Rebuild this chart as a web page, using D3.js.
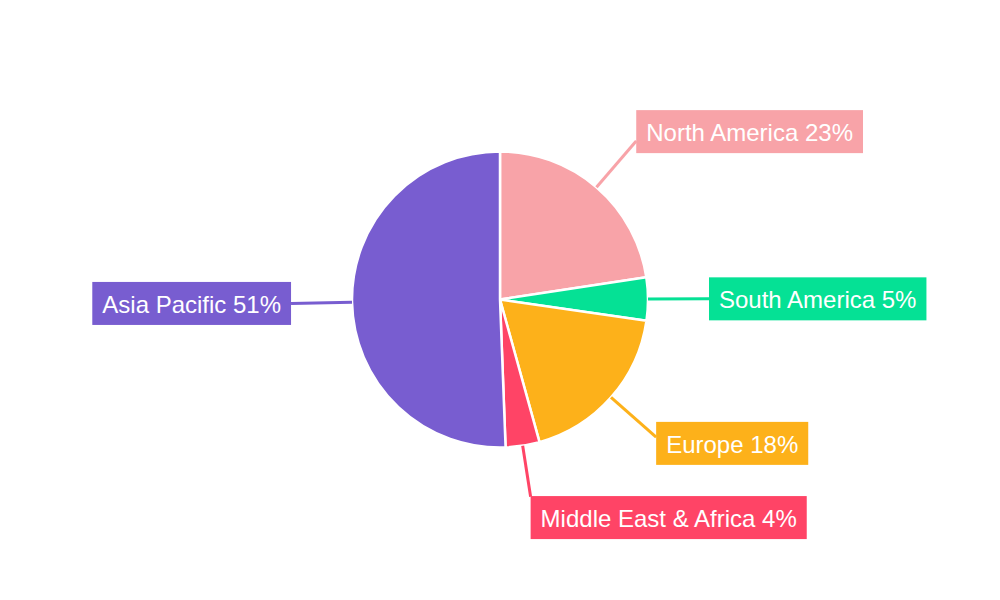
<!DOCTYPE html>
<html>
<head>
<meta charset="utf-8">
<script src="https://cdn.jsdelivr.net/npm/d3@7"></script>
<style>
  html, body { margin: 0; padding: 0; background: #ffffff; }
  svg { display: block; }
</style>
</head>
<body>
<svg id="chart" width="1000" height="600"></svg>
<script>
const categories = ["North America", "South America", "Europe", "Middle East & Africa", "Asia Pacific"];
const values = [22.6, 4.7, 18.4, 3.7, 50.6];
const colors = ["#F8A3A8", "#05E195", "#FDB11A", "#FF4466", "#785DD0"];

const width = 1000, height = 600;
const cx = 500, cy = 299.5, radius = 148;
const lineOut = 61;
const fontSize = 24, padX = 10, boxH = 43;

const svg = d3.select("#chart");
const g = svg.append("g").attr("transform", `translate(${cx},${cy})`);

const data = categories.map((c, i) => ({ name: c, value: values[i], color: colors[i] }));
const total = d3.sum(values);

const pie = d3.pie().value(d => d.value).sort(null);
const arcs = pie(data);
const arc = d3.arc().innerRadius(0).outerRadius(radius);

g.selectAll("path.slice")
  .data(arcs)
  .enter().append("path")
  .attr("class", "slice")
  .attr("d", arc)
  .attr("fill", d => d.data.color)
  .attr("stroke", "#ffffff")
  .attr("stroke-width", 2.5)
  .attr("stroke-linejoin", "round");

const labels = g.selectAll("g.label")
  .data(arcs)
  .enter().append("g")
  .attr("class", "label");

labels.each(function(d) {
  const sel = d3.select(this);
  const mid = (d.startAngle + d.endAngle) / 2;
  const ux = Math.sin(mid), uy = -Math.cos(mid);
  const out = radius + lineOut - 10 * Math.pow(Math.max(uy, 0), 6);
  const x0 = ux * radius, y0 = uy * radius;
  const x1 = ux * out, y1 = uy * out;

  sel.append("line")
    .attr("x1", x0).attr("y1", y0)
    .attr("x2", x1).attr("y2", y1)
    .attr("stroke", d.data.color)
    .attr("stroke-width", 3);

  const txt = `${d.data.name} ${Math.round(d.data.value / total * 100)}%`;
  const t = sel.append("text")
    .attr("font-family", "Liberation Sans, Arial, sans-serif")
    .attr("font-size", fontSize)
    .attr("fill", "#ffffff")
    .attr("dominant-baseline", "central")
    .text(txt);
  const tw = t.node().getComputedTextLength();
  const bw = tw + padX * 2;
  const right = ux >= 0;
  const bx = right ? x1 : x1 - bw;
  const bcy = y1 + Math.pow(uy, 3) * boxH / 2;
  sel.insert("rect", "text")
    .attr("x", bx).attr("y", bcy - boxH / 2)
    .attr("width", bw).attr("height", boxH)
    .attr("fill", d.data.color);
  t.attr("x", bx + padX).attr("y", bcy + 1);
});
</script>
</body>
</html>
